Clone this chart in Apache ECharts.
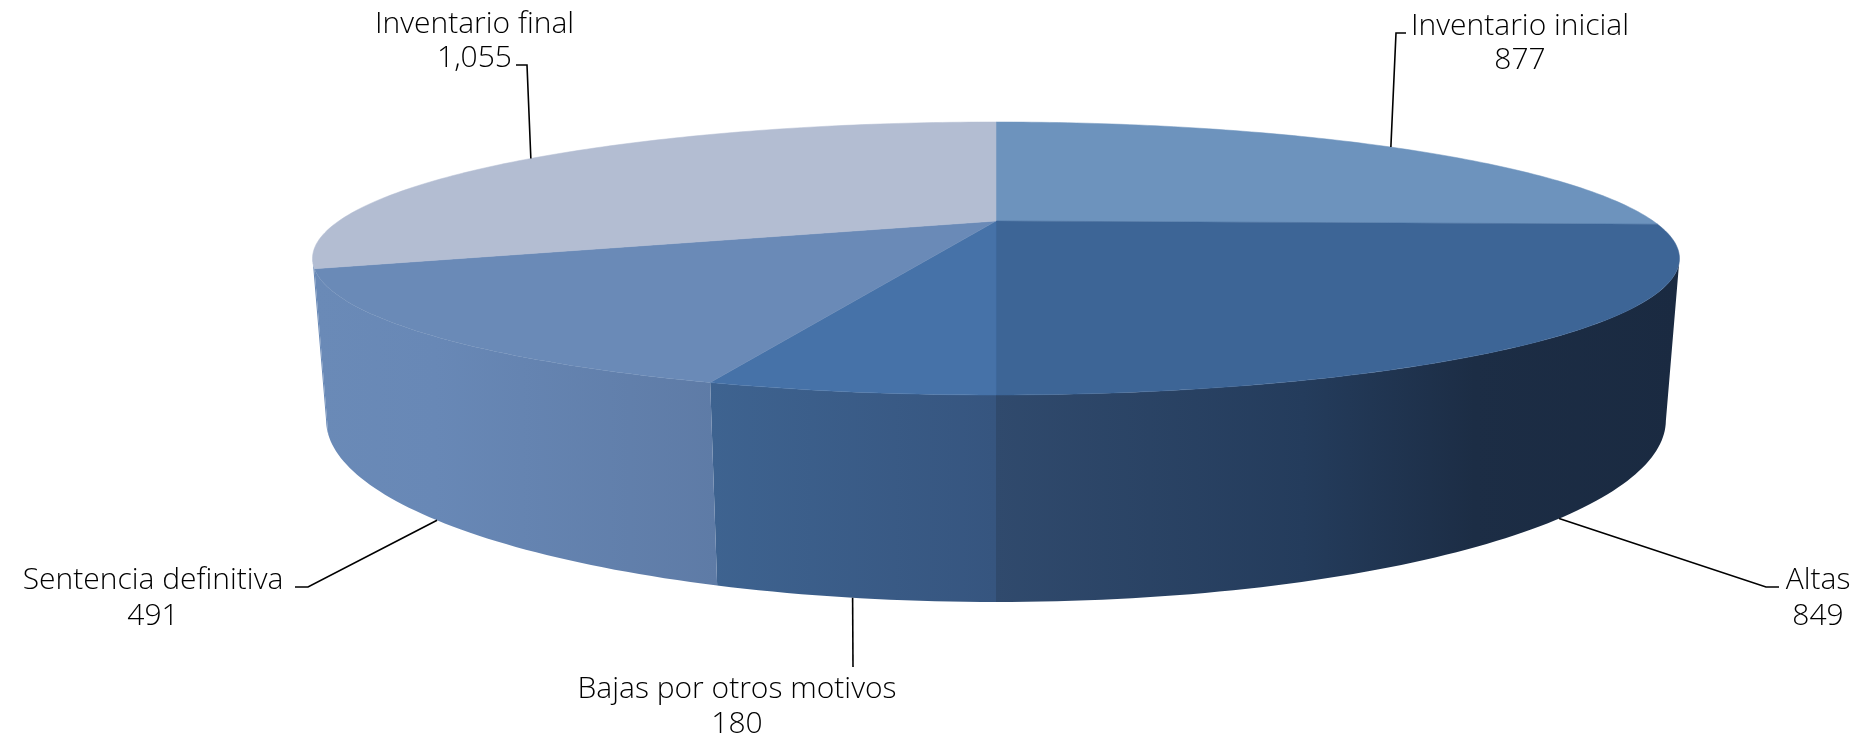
<!DOCTYPE html>
<html><head><meta charset="utf-8">
<style>html,body{margin:0;padding:0;background:#fff}#c{width:1860px;height:735px}</style>
<script src="https://cdn.jsdelivr.net/npm/echarts@6/dist/echarts.min.js"></script>
</head><body><div id="c"></div>
<script>
var categories = ['Inventario inicial','Altas','Bajas por otros motivos','Sentencia definitiva','Inventario final'];
var values = [877,849,180,491,1055];
var valueLabels = ['877','849','180','491','1,055'];
var topColors = ['#6d93bd','#3d6596','#4672a8','#6a8ab7','#b3bdd2'];
var wallStops = [
 [[0,'#6d93bd'],[1,'#5f82aa']],
 [[0,'#304a6d'],[0.45,'#243c5c'],[0.7,'#1c2d45'],[1,'#1a2a41']],
 [[0,'#3e6390'],[1,'#36557f']],
 [[0,'#6a8ab7'],[0.3,'#6888b6'],[1,'#5e7ba6']],
 [[0,'#6a8ab7'],[1,'#6a8ab7']]
];
var labelLayout = [
 {x:1520,y:26,lh:34,elbow:[[1396,33],[1406,33]],face:'top',shift:0},
 {x:1818,y:580,lh:36,elbow:[[1766,587],[1779,587]],face:'bottom',shift:-0.65},
 {x:737,y:689,lh:35,elbow:[[853,667]],face:'bottom',shift:0},
 {x:153,y:580,lh:36,elbow:[[308,587],[295,587]],face:'bottom',shift:0},
 {x:474.5,y:24,lh:34,elbow:[[527,65],[516,65]],face:'top',shift:0}
];
var TOP = {cx:996,y0:221,k:126.2,c:0.2747,d:657.2};
var BOT = {cx:996,y0:370.9,k:168.7,c:0.27,d:645};
var SIL = [105.9,254.1];
var total = values.reduce(function(a,b){return a+b;},0);
function proj(P,deg){var r=deg*Math.PI/180,u=Math.sin(r),v=Math.cos(r),den=1+P.c*v;return [P.cx+P.d*u/den,P.y0-P.k*v/den];}
function range(i){var s=0;for(var j=0;j<i;j++)s+=values[j];return [s/total*360,(s+values[i])/total*360];}
function arc(P,a,b){var pts=[],n=Math.max(2,Math.ceil(Math.abs(b-a)));for(var i=0;i<=n;i++)pts.push(proj(P,a+(b-a)*i/n));return pts;}
var seriesData = categories.map(function(n,i){return {name:n,value:values[i]};});
function wall(p,api){
 var i=p.dataIndex,r=range(i),a=Math.max(r[0],SIL[0]),b=Math.min(r[1],SIL[1]);
 if(b<=a)return {type:'group',children:[]};
 var pts=arc(TOP,a,b).concat(arc(BOT,a,b).reverse());
 var stops=wallStops[i].map(function(s){return {offset:s[0],color:s[1]};});
 return {type:'polygon',shape:{points:pts},style:{fill:{type:'linear',x:0,y:0,x2:1,y2:0,colorStops:stops},stroke:null}};
}
function face(p,api){
 var i=p.dataIndex,r=range(i);
 var pts=[[TOP.cx,TOP.y0]].concat(arc(TOP,r[0],r[1]));
 return {type:'polygon',shape:{points:pts},style:{fill:topColors[i],stroke:topColors[i],lineWidth:0.5}};
}
function label(p,api){
 var i=p.dataIndex,r=range(i),L=labelLayout[i],mid=(r[0]+r[1])/2+L.shift;
 var A=proj(L.face==='top'?TOP:BOT,mid);
 var font='300 30px "Open Sans"';
 return {type:'group',children:[
  {type:'polyline',shape:{points:[A].concat(L.elbow)},style:{stroke:'#000',lineWidth:1.6,fill:null}},
  {type:'text',style:{text:categories[i],x:L.x,y:L.y,align:'center',verticalAlign:'middle',font:font,fill:'#000'}},
  {type:'text',style:{text:valueLabels[i],x:L.x,y:L.y+L.lh,align:'center',verticalAlign:'middle',font:font,fill:'#000'}}
 ]};
}
var chart = echarts.init(document.getElementById('c'),null,{renderer:'canvas'});
chart.setOption({
 animation:false,backgroundColor:'#fff',
 series:[
  {type:'custom',coordinateSystem:'none',renderItem:wall,data:seriesData,z:1,silent:true},
  {type:'custom',coordinateSystem:'none',renderItem:face,data:seriesData,z:2,silent:true},
  {type:'custom',coordinateSystem:'none',renderItem:label,data:seriesData,z:3,silent:true}
 ]
});
</script></body></html>
